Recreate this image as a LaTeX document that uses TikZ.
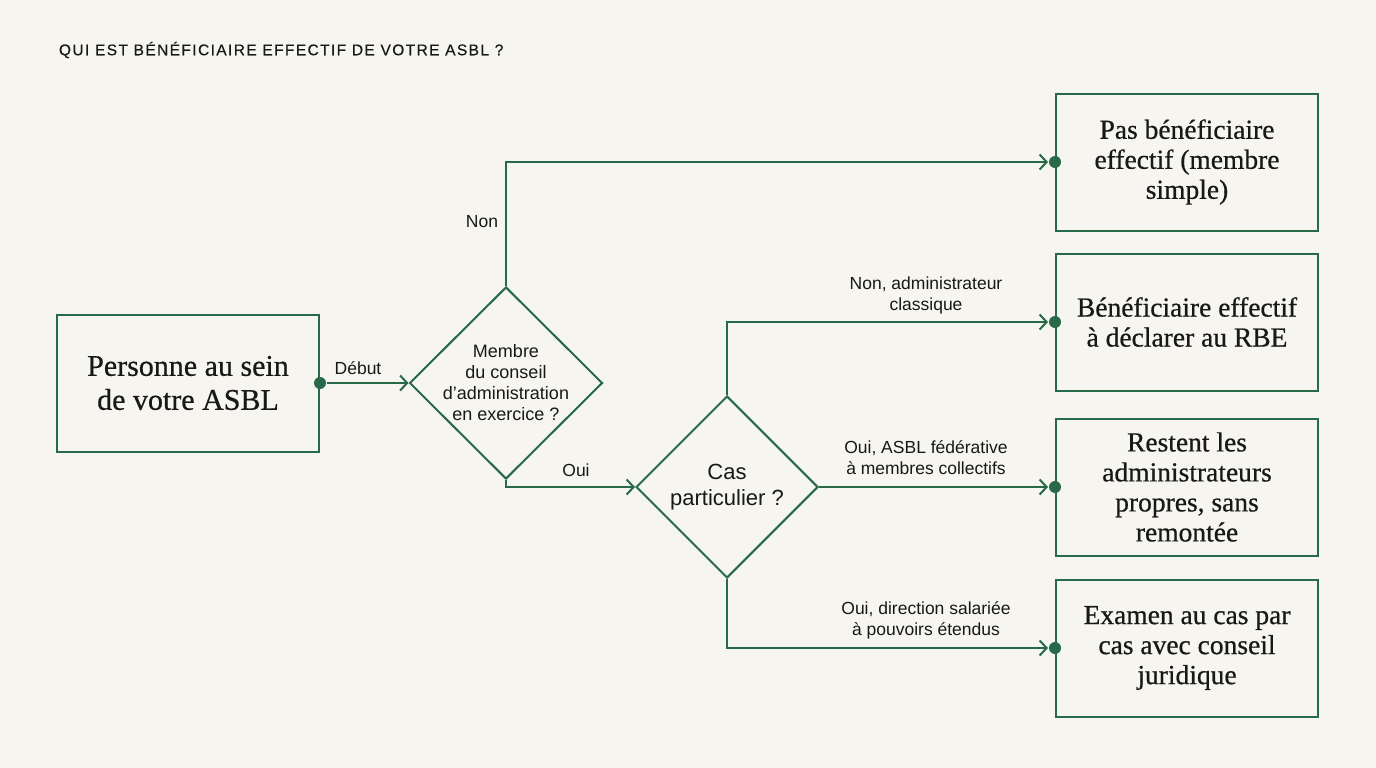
\documentclass[tikz,border=0pt]{standalone}
\usepackage{fontspec}
\setmainfont{Liberation Serif}[FakeBold=0.6]
\setsansfont{Liberation Sans}
\usetikzlibrary{shapes.geometric,arrows.meta}
\definecolor{vert}{RGB}{40,105,72}
\definecolor{fond}{RGB}{246,245,240}
\definecolor{encre}{RGB}{24,24,24}
\begin{document}
\begin{tikzpicture}[x=1pt,y=-1pt,line width=2pt,text=encre,
  boite/.style={draw=vert,minimum width=262pt,minimum height=137pt,align=center,font=\fontsize{27.5}{30}\selectfont},
  losange/.style={draw=vert,shape=diamond,inner sep=-5pt,align=center,font=\sffamily\fontsize{18}{21}\selectfont},
  etiq/.style={align=center,font=\sffamily\fontsize{17.5}{21}\selectfont},
  fleche/.style={draw=vert,-{Straight Barb[length=7pt,width=15pt]}},
  point/.style={circle,fill=vert,inner sep=0pt,minimum size=12pt}]
\path[fill=fond] (0,0) rectangle (1376,768);
\node[anchor=west,inner sep=0pt,font=\sffamily\fontsize{15.5}{18}\selectfont\addfontfeature{LetterSpace=9,FakeBold=0.4}] (titre) at (58,50) {QUI EST BÉNÉFICIAIRE EFFECTIF DE VOTRE ASBL ?};
\node[boite,font=\fontsize{30}{34}\selectfont] (depart) at (188,383) {Personne au sein\\de votre ASBL};
\node[losange,minimum width=193pt,minimum height=192pt] (membre) at (506,383) {Membre\\du conseil\\d’administration\\en exercice ?};
\node[losange,minimum width=182pt,minimum height=182pt,font=\sffamily\fontsize{22}{26}\selectfont] (cas) at (727,487) {Cas\\particulier ?};
\node[boite] (simple) at (1187,162) {Pas bénéficiaire\\effectif (membre\\simple)};
\node[boite] (rbe) at (1187,322) {Bénéficiaire effectif\\à déclarer au RBE};
\node[boite] (federe) at (1187,487) {Restent les\\administrateurs\\propres, sans\\remontée};
\node[boite] (examen) at (1187,648) {Examen au cas par\\cas avec conseil\\juridique};
\node[point] (p0) at (depart.east) {};
\node[point] (p1) at (simple.west) {};
\node[point] (p2) at (rbe.west) {};
\node[point] (p3) at (federe.west) {};
\node[point] (p4) at (examen.west) {};
\draw[fleche] (p0) -- (membre.west);
\draw[fleche] (membre.north) |- (p1);
\draw[fleche] (membre.south) |- (cas.west);
\draw[fleche] (cas.north) |- (p2);
\draw[fleche] (cas.east) -- (p3);
\draw[fleche] (cas.south) |- (p4);
\node[etiq] (l0) at (358,368) {Début};
\node[etiq] (l1) at (482,222) {Non};
\node[etiq] (l2) at (576,470) {Oui};
\node[etiq] (l3) at (926,295) {Non, administrateur\\classique};
\node[etiq] (l4) at (926,458) {Oui, ASBL fédérative\\à membres collectifs};
\node[etiq] (l5) at (926,620) {Oui, direction salariée\\à pouvoirs étendus};
\end{tikzpicture}
\end{document}
